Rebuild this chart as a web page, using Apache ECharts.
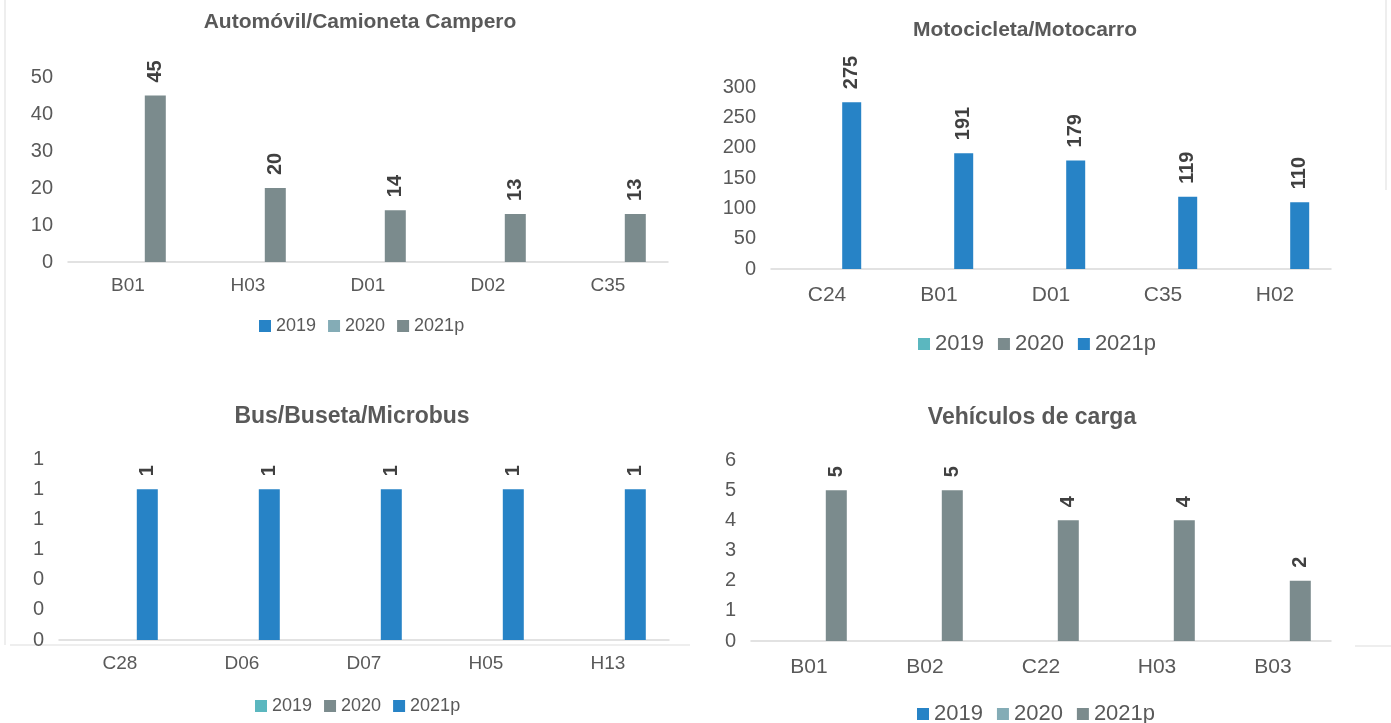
<!DOCTYPE html>
<html>
<head>
<meta charset="utf-8">
<script src="https://cdn.jsdelivr.net/npm/echarts@6/dist/echarts.min.js"></script>
<style>
html, body { margin: 0; padding: 0; background: #fff; }
#chart { width: 1391px; height: 723px; }
</style>
</head>
<body>
<div id="chart"></div>
<script>
// 图例名称
const seriesNames = ['2019', '2020', '2021p'];

// Automóvil/Camioneta Campero
const autoCats = ['B01', 'H03', 'D01', 'D02', 'C35'];
const auto2019 = [null, null, null, null, null];
const auto2020 = [null, null, null, null, null];
const auto2021 = [45, 20, 14, 13, 13];

// Motocicleta/Motocarro
const motoCats = ['C24', 'B01', 'D01', 'C35', 'H02'];
const moto2019 = [null, null, null, null, null];
const moto2020 = [null, null, null, null, null];
const moto2021 = [275, 191, 179, 119, 110];

// Bus/Buseta/Microbus
const busCats = ['C28', 'D06', 'D07', 'H05', 'H13'];
const bus2019 = [null, null, null, null, null];
const bus2020 = [null, null, null, null, null];
const bus2021 = [1, 1, 1, 1, 1];

// Vehículos de carga
const cargaCats = ['B01', 'B02', 'C22', 'H03', 'B03'];
const carga2019 = [null, null, null, null, null];
const carga2020 = [null, null, null, null, null];
const carga2021 = [5, 5, 4, 4, 2];

// 颜色
const BLUE = '#2783c6';
const GRAY = '#7b8b8d';
const LIGHT = '#84acb6';
const TEAL = '#5bb7bf';
const TXT = '#595959';
const FONT = '"Liberation Sans", Arial, sans-serif';

const panels = [
    {
        title: 'Automóvil/Camioneta Campero', tx: 360, ty: 22, titleSize: 21,
        cats: autoCats, data: [auto2019, auto2020, auto2021], colors: [BLUE, LIGHT, GRAY],
        grid: { left: 68, top: 77, width: 600, height: 185 },
        max: 50, interval: 10, barWidth: 21, xFont: 19, xMargin: 14,
        lx: 362, ly: 329, lFont: 18, lGap: 12
    },
    {
        title: 'Motocicleta/Motocarro', tx: 1025, ty: 30, titleSize: 21,
        cats: motoCats, data: [moto2019, moto2020, moto2021], colors: [TEAL, GRAY, BLUE],
        grid: { left: 771, top: 87, width: 560, height: 182 },
        max: 300, interval: 50, barWidth: 19, xFont: 21, xMargin: 16,
        lx: 1037, ly: 345, lFont: 22, lGap: 14
    },
    {
        title: 'Bus/Buseta/Microbus', tx: 352, ty: 417, titleSize: 23,
        cats: busCats, data: [bus2019, bus2020, bus2021], colors: [TEAL, GRAY, BLUE],
        grid: { left: 59, top: 459, width: 610, height: 181 },
        max: 1.2, interval: 0.2, barWidth: 21, xFont: 19, xMargin: 14,
        lx: 358, ly: 709, lFont: 18, lGap: 12
    },
    {
        title: 'Vehículos de carga', tx: 1032, ty: 418, titleSize: 23,
        cats: cargaCats, data: [carga2019, carga2020, carga2021], colors: [BLUE, LIGHT, GRAY],
        grid: { left: 751, top: 460, width: 580, height: 181 },
        max: 6, interval: 1, barWidth: 21, xFont: 21, xMargin: 16,
        lx: 1036, ly: 715, lFont: 22, lGap: 14
    }
];

// 图例宽度的粗略估计（用于居中）
function legendWidth(p) {
    const chars = 13; // 2019 + 2020 + 2021p
    return 3 * (12 + 5) + 2 * p.lGap + chars * 0.556 * p.lFont;
}

const grid = [], xAxis = [], yAxis = [], series = [], legend = [];
const graphic = [
    // 图表边框（浅灰）
    { type: 'line', shape: { x1: 5, y1: 0, x2: 5, y2: 645 }, style: { stroke: '#eeeeee', lineWidth: 2 }, silent: true },
    { type: 'line', shape: { x1: 10, y1: 645, x2: 690, y2: 645 }, style: { stroke: '#eeeeee', lineWidth: 2 }, silent: true },
    { type: 'line', shape: { x1: 1355, y1: 646, x2: 1391, y2: 646 }, style: { stroke: '#eeeeee', lineWidth: 2 }, silent: true },
    { type: 'line', shape: { x1: 1386, y1: 0, x2: 1386, y2: 190 }, style: { stroke: '#eeeeee', lineWidth: 2 }, silent: true }
];

panels.forEach((p, i) => {
    grid.push(Object.assign({ containLabel: false }, p.grid));
    xAxis.push({
        type: 'category', gridIndex: i, data: p.cats,
        axisLine: { lineStyle: { color: '#d9d9d9', width: 1.5 } },
        axisTick: { show: false },
        axisLabel: { color: TXT, fontSize: p.xFont, fontFamily: FONT, margin: p.xMargin }
    });
    yAxis.push({
        type: 'value', gridIndex: i, min: 0, max: p.max, interval: p.interval,
        splitLine: { show: false },
        axisLine: { show: false },
        axisTick: { show: false },
        axisLabel: {
            color: TXT, fontSize: 20, fontFamily: FONT, margin: 15,
            formatter: v => String(Math.round(v))
        }
    });
    seriesNames.forEach((name, k) => {
        const s = {
            name: name, type: 'bar', xAxisIndex: i, yAxisIndex: i,
            data: p.data[k], barWidth: p.barWidth, barGap: '30%',
            itemStyle: { color: p.colors[k] },
            emphasis: { disabled: true }
        };
        if (k === 2) {
            s.label = {
                show: true, position: 'top', rotate: 90, align: 'left', verticalAlign: 'middle',
                distance: 13, fontWeight: 'bold', fontSize: 20, color: '#404040', fontFamily: FONT
            };
        }
        series.push(s);
    });
    legend.push({
        left: Math.round(p.lx - legendWidth(p) / 2 - 5), top: p.ly - 17,
        icon: 'rect', itemWidth: 12, itemHeight: 12, itemGap: p.lGap,
        selectedMode: false,
        textStyle: { color: TXT, fontSize: p.lFont, fontFamily: FONT },
        data: seriesNames.map((n, k) => ({ name: n, itemStyle: { color: p.colors[k] } }))
    });
    graphic.push({
        type: 'text', x: p.tx, y: p.ty, silent: true,
        style: {
            text: p.title, align: 'center', verticalAlign: 'middle',
            textAlign: 'center', textVerticalAlign: 'middle',
            fill: TXT, font: 'bold ' + p.titleSize + 'px ' + FONT
        }
    });
});

var myChart = echarts.init(document.getElementById('chart'));
myChart.setOption({
    animation: false,
    backgroundColor: '#ffffff',
    grid: grid,
    xAxis: xAxis,
    yAxis: yAxis,
    legend: legend,
    series: series,
    graphic: graphic
});
</script>
</body>
</html>
